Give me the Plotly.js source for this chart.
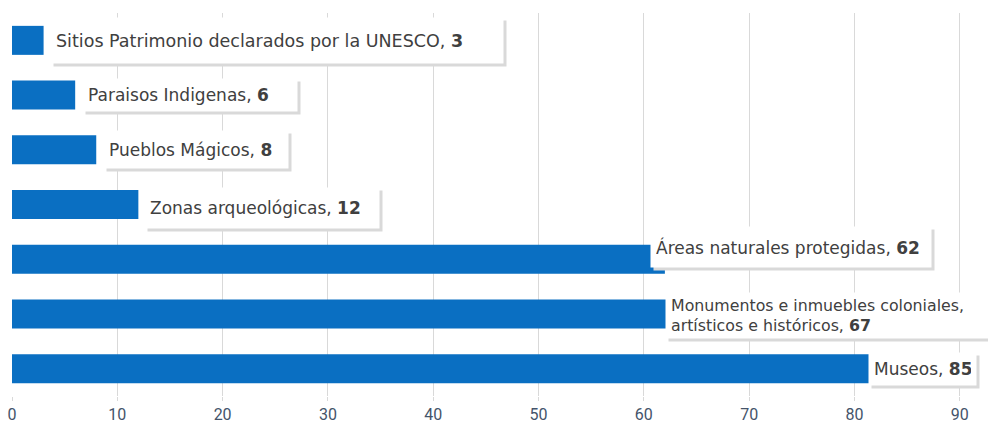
<!DOCTYPE html>
<html><head><meta charset="utf-8">
<script src="https://cdn.plot.ly/plotly-3.0.1.min.js"></script>
<style>html,body{margin:0;padding:0;background:#fff}#c{width:988px;height:434px}</style>
</head><body><div id="c"></div>
<script>
const categories = ["Sitios Patrimonio declarados por la UNESCO","Paraisos Indigenas","Pueblos Mágicos","Zonas arqueológicas","Áreas naturales protegidas","Monumentos e inmuebles coloniales,<br>artísticos e históricos","Museos"];
const values = [3, 6, 8, 12, 62, 67, 85];
const tickVals = [0,10,20,30,40,50,60,70,80,90];

// label box placement (pixels): x shift from bar end, y shift, box width, box height, font size
const labelDx = [6, 7, 7, 6, -15, -53, -39];
const labelDy = [0, 0, 0, -3, 12, -2, 0];
const boxW = [452, 214, 184, 234, 280, 322, 107];
const boxH = [45, 32, 37, 40, 40, 45, 32];
const fontSz = [17.5, 17, 17, 17, 17, 15.8, 17];

const ann = [];
categories.forEach((c, i) => {
  const txt = c + ", <b>" + values[i] + "</b>";
  const base = {xref:'x', yref:'y', x: values[i], y: c, xanchor:'left', yanchor:'middle',
    showarrow:false, align:'left', valign:'middle', width: boxW[i]-10, height: boxH[i]-10, borderpad:5};
  ann.push(Object.assign({}, base, {text: ' ', xshift: labelDx[i]+3, yshift: labelDy[i]-3,
    bgcolor:'#d9d9d9', font:{family:'DejaVu Sans', size:fontSz[i], color:'#d9d9d9'}}));
  ann.push(Object.assign({}, base, {text: txt, xshift: labelDx[i], yshift: labelDy[i],
    bgcolor:'#ffffff',
    font:{family:'DejaVu Sans', size:fontSz[i], color:'#404040'}}));
});

const trace = {type:'bar', orientation:'h', x: values, y: categories,
  marker:{color:'#0a6fc2'}, hoverinfo:'none'};

const layout = {
  width:988, height:434, margin:{l:12, r:3, t:13, b:38},
  paper_bgcolor:'#fff', plot_bgcolor:'#fff', bargap:0.47, showlegend:false,
  font:{family:'DejaVu Sans', color:'#595959'},
  xaxis:{range:[0,92.4], tickvals:tickVals, showgrid:true, gridcolor:'#d9d9d9', gridwidth:1,
    zeroline:false, showline:false, ticks:'outside', ticklen:4, tickcolor:'#d9d9d9',
    tickfont:{family:'Roboto', size:16, color:'#44546a'}},
  yaxis:{categoryorder:'array', categoryarray:categories, autorange:'reversed',
    showticklabels:false, showgrid:false, zeroline:false, showline:false},
  annotations: ann
};
Plotly.newPlot('c', [trace], layout, {displayModeBar:false, staticPlot:true});
</script></body></html>
